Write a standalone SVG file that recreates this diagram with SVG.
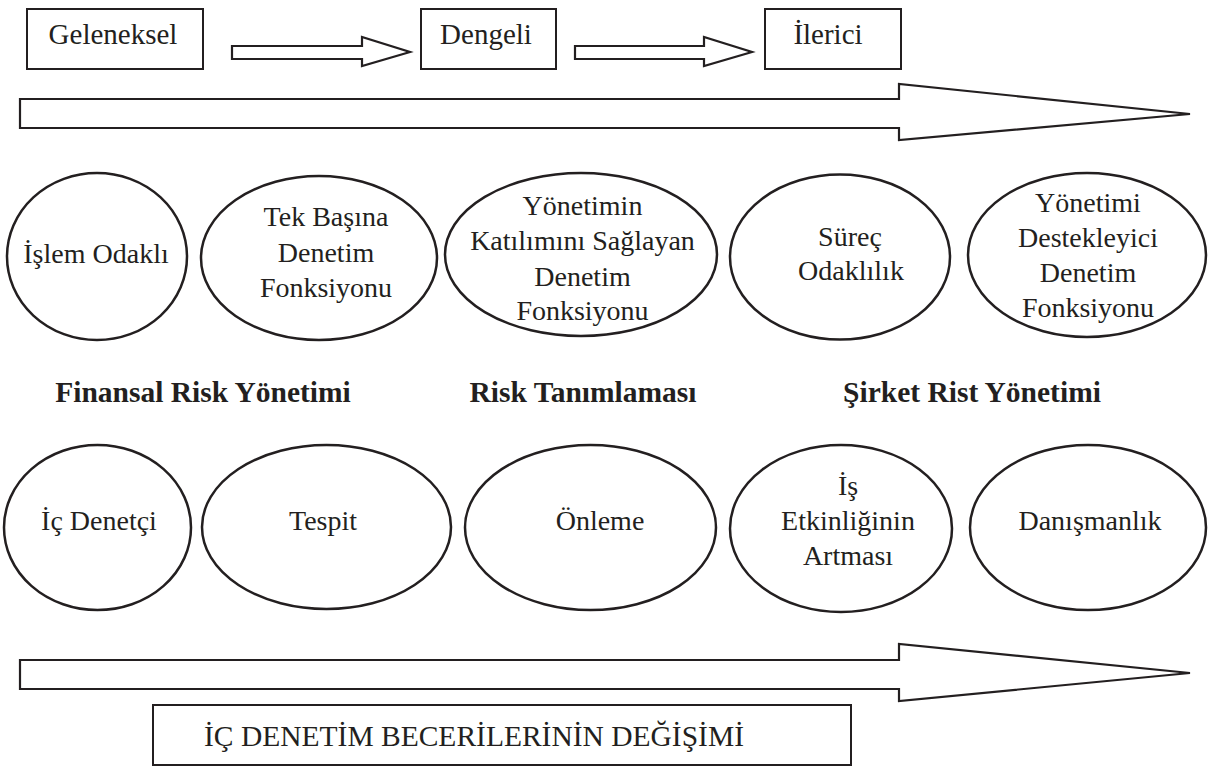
<svg xmlns="http://www.w3.org/2000/svg" width="1217" height="766" viewBox="0 0 1217 766">
<style>
.bx{fill:#fff;stroke:#231f20;stroke-width:2}
.ar{fill:#fff;stroke:#231f20;stroke-width:2.2;stroke-linejoin:miter}
.el{fill:#fff;stroke:#231f20;stroke-width:2.5}
text{font-family:'Liberation Serif','Times New Roman',serif;font-size:28px;fill:#231f20;text-anchor:middle}
.h{font-size:29px}
.b{font-weight:bold;font-size:29.5px}
.f{font-size:29.5px}
</style>
<rect width="1217" height="766" fill="#fff"/>
<g id="connectors">
<path class="ar" d="M232,46 H362 V37 L410,52 L362,66 V59 H232 Z"/>
<path class="ar" d="M575,46 H704 V37 L752,52 L704,66 V59 H575 Z"/>
<path class="ar" d="M20,99 H899 V84 L1190,114 L899,140 V128 H20 Z"/>
<path class="ar" d="M20,660 H899 V644 L1190,673 L899,701 V689 H20 Z"/>
</g>
<g id="geleneksel"><rect class="bx" x="27" y="9" width="176" height="60"/><text class="h" x="113" y="44">Geleneksel</text></g>
<g id="dengeli"><rect class="bx" x="421" y="9" width="135" height="60"/><text class="h" x="486" y="44">Dengeli</text></g>
<g id="ilerici"><rect class="bx" x="765" y="9" width="136" height="60"/><text class="h" x="828" y="44">İlerici</text></g>

<g id="islem-odakli"><ellipse class="el" cx="97" cy="256.5" rx="90" ry="83.5"/><text x="96" y="263">İşlem Odaklı</text></g>
<g id="tek-basina"><ellipse class="el" cx="319" cy="258" rx="118" ry="82"/><text x="326" y="226">Tek Başına</text><text x="326" y="262">Denetim</text><text x="326" y="297">Fonksiyonu</text></g>
<g id="yonetimin-katilimi"><ellipse class="el" cx="581" cy="254.5" rx="136" ry="81.5"/><text x="582.5" y="215">Yönetimin</text><text x="582.5" y="250">Katılımını Sağlayan</text><text x="582.5" y="286">Denetim</text><text x="582.5" y="320">Fonksiyonu</text></g>
<g id="surec-odaklilik"><ellipse class="el" cx="840" cy="257" rx="110" ry="82.5"/><text x="850" y="246">Süreç</text><text x="851" y="280">Odaklılık</text></g>
<g id="yonetimi-destekleyici"><ellipse class="el" cx="1087" cy="255" rx="119" ry="82"/><text x="1088" y="212">Yönetimi</text><text x="1088" y="247">Destekleyici</text><text x="1088" y="282">Denetim</text><text x="1088" y="317">Fonksiyonu</text></g>

<g id="label-finansal"><text class="b" x="203" y="402">Finansal Risk Yönetimi</text></g>
<g id="label-risk"><text class="b" x="583" y="402">Risk Tanımlaması</text></g>
<g id="label-sirket"><text class="b" x="972" y="402">Şirket Rist Yönetimi</text></g>

<g id="ic-denetci"><ellipse class="el" cx="97.5" cy="527.5" rx="93.5" ry="82.5"/><text x="99" y="530">İç Denetçi</text></g>
<g id="tespit"><ellipse class="el" cx="326.5" cy="527" rx="124.5" ry="82"/><text x="323" y="530">Tespit</text></g>
<g id="onleme"><ellipse class="el" cx="590.5" cy="527.5" rx="125.5" ry="82.5"/><text x="600" y="530">Önleme</text></g>
<g id="is-etkinligi"><ellipse class="el" cx="841" cy="528.5" rx="111" ry="83.5"/><text x="848" y="495">İş</text><text x="848" y="530">Etkinliğinin</text><text x="848" y="565">Artması</text></g>
<g id="danismanlik"><ellipse class="el" cx="1088" cy="527.5" rx="118" ry="82.5"/><text x="1090" y="530">Danışmanlık</text></g>

<g id="ic-denetim-becerileri"><rect class="bx" x="153" y="705" width="698" height="60"/><text class="f" x="474" y="746">İÇ DENETİM BECERİLERİNİN DEĞİŞİMİ</text></g>
</svg>
